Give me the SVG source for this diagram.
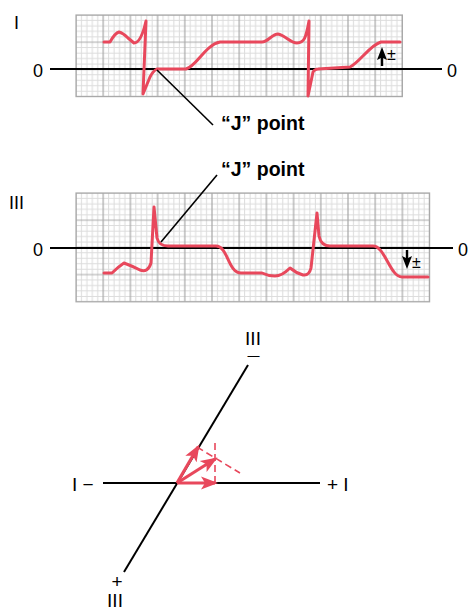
<svg xmlns="http://www.w3.org/2000/svg" width="469" height="611" viewBox="0 0 469 611">
<style>
.t{font-family:"Liberation Sans",Arial,sans-serif;font-size:18px;fill:#000}
.v{font-family:"Liberation Sans",Arial,sans-serif;font-size:19px;fill:#000}
.s{font-family:"Liberation Sans",Arial,sans-serif;font-size:12px;fill:#000}
.b{font-family:"Liberation Sans",Arial,sans-serif;font-size:19.5px;font-weight:bold;fill:#000}
.pm{font-family:"Liberation Sans",Arial,sans-serif;font-size:16px;fill:#000}
.trace{fill:none;stroke:#e8485c;stroke-width:3;stroke-linejoin:round;stroke-linecap:round}
.axis{stroke:#000;stroke-width:2;fill:none}
.lead{stroke:#000;stroke-width:1.6;fill:none}
.vec{stroke:#e8485c;stroke-width:3.2;fill:none;marker-end:url(#rh)}
.dash{stroke:#e8485c;stroke-width:1.6;fill:none;stroke-dasharray:7 4}
.minor{stroke:#dcdcdc;stroke-width:1}
.major{stroke:#a9a9a9;stroke-width:1.2}
</style>
<defs>
<pattern id="gridI" x="76" y="15" width="27.2" height="27.2" patternUnits="userSpaceOnUse">
<rect width="27.2" height="27.2" fill="#fff"/>
<path class="minor" d="M5.44,0V27.2M10.88,0V27.2M16.32,0V27.2M21.76,0V27.2M0,5.44H27.2M0,10.88H27.2M0,16.32H27.2M0,21.76H27.2"/>
<path class="major" d="M0,0V27.2M27.2,0V27.2M0,0H27.2M0,27.2H27.2"/>
</pattern>
<pattern id="gridIII" x="76" y="193" width="27.2" height="27.2" patternUnits="userSpaceOnUse">
<rect width="27.2" height="27.2" fill="#fff"/>
<path class="minor" d="M5.44,0V27.2M10.88,0V27.2M16.32,0V27.2M21.76,0V27.2M0,5.44H27.2M0,10.88H27.2M0,16.32H27.2M0,21.76H27.2"/>
<path class="major" d="M0,0V27.2M27.2,0V27.2M0,0H27.2M0,27.2H27.2"/>
</pattern>
<marker id="rh" markerUnits="userSpaceOnUse" markerWidth="18" markerHeight="14" refX="14" refY="7" orient="auto" viewBox="0 0 18 14">
<path d="M0,0.5 L17,7 L0,13.5 L4,7 Z" fill="#e8485c"/>
</marker>
</defs>

<g id="panel-I">
<rect x="76" y="15" width="326.4" height="81.6" fill="url(#gridI)" stroke="#a9a9a9" stroke-width="1.2"/>
<text class="t" x="14" y="29">I</text>
<text class="t" x="33" y="77">0</text>
<text class="t" x="447" y="77">0</text>
<line class="axis" x1="50" y1="69" x2="442" y2="69"/>
<path class="trace" d="M104,42 L110,42 Q115,33 119,32 Q123,33 128,38 L134,43 Q141,43 146,21 L143,94 L150,77 Q153,71 157,69 L186,69 C197,66 205,45 220,42 L262,42 C268,42 272,34 278,34 C285,35 290,43 297,43 C304,43 306,38 309,21 L308,96 L313,72 Q315,69 318,69 L350,67 C360,62 370,45 381,42 L400,42"/>
<path d="M382,66 V56" stroke="#000" stroke-width="2.4"/>
<path d="M382,47 L387,60 L382,57.5 L377,60 Z" fill="#000"/>
<text class="pm" x="387" y="60">±</text>
</g>

<g id="panel-III">
<rect x="76" y="193" width="353.6" height="108.8" fill="url(#gridIII)" stroke="#a9a9a9" stroke-width="1.2"/>
<text class="t" x="9" y="209">III</text>
<text class="t" x="33" y="256">0</text>
<text class="t" x="458" y="256">0</text>
<line class="axis" x1="50" y1="248" x2="453" y2="248"/>
<path class="trace" d="M104,273 L112,273 Q118,267 124,263 Q132,266 140,270 Q148,273 151,263 L154,207 L157,238 Q159,246 168,246 L216,246 C228,246 228,273 241,273 L262,273 Q268,276 275,276 Q282,276 290,268 Q296,273 303,275 Q309,276 311,268 L317,213 L319,236 Q321,246 330,246 L373,246 C385,246 390,277 402,277 L428,277"/>
<path d="M407,250 V260" stroke="#000" stroke-width="2.4"/>
<path d="M407,269 L412,256 L407,258.5 L402,256 Z" fill="#000"/>
<text class="pm" x="412" y="268">±</text>
</g>

<g id="label-J1">
<text class="b" x="221" y="130">“J” point</text>
</g>
<g id="label-J2">
<text class="b" x="221" y="176">“J” point</text>
</g>

<g id="connectors">
<line class="lead" x1="157" y1="70" x2="213" y2="125"/>
<line class="lead" x1="161" y1="242" x2="217" y2="175"/>
</g>

<g id="vector-diagram">
<line class="axis" x1="103" y1="483" x2="320" y2="483"/>
<line class="axis" x1="248" y1="365" x2="124" y2="572"/>
<text class="v" x="72" y="491">I −</text>
<text class="v" x="327" y="491">+ I</text>
<text class="v" x="253" y="345" text-anchor="middle">III</text>
<text class="s" x="253.5" y="359.5" text-anchor="middle">—</text>
<text class="v" text-anchor="middle"><tspan x="117" y="588">+</tspan><tspan x="115" y="607">III</tspan></text>
<line class="dash" x1="215" y1="483" x2="215" y2="442"/>
<line class="dash" x1="197" y1="447" x2="240" y2="473"/>
<line class="vec" x1="177" y1="483" x2="215" y2="483"/>
<line class="vec" x1="177" y1="483" x2="198" y2="447"/>
<line class="vec" x1="177" y1="483" x2="215" y2="459"/>
</g>
</svg>
